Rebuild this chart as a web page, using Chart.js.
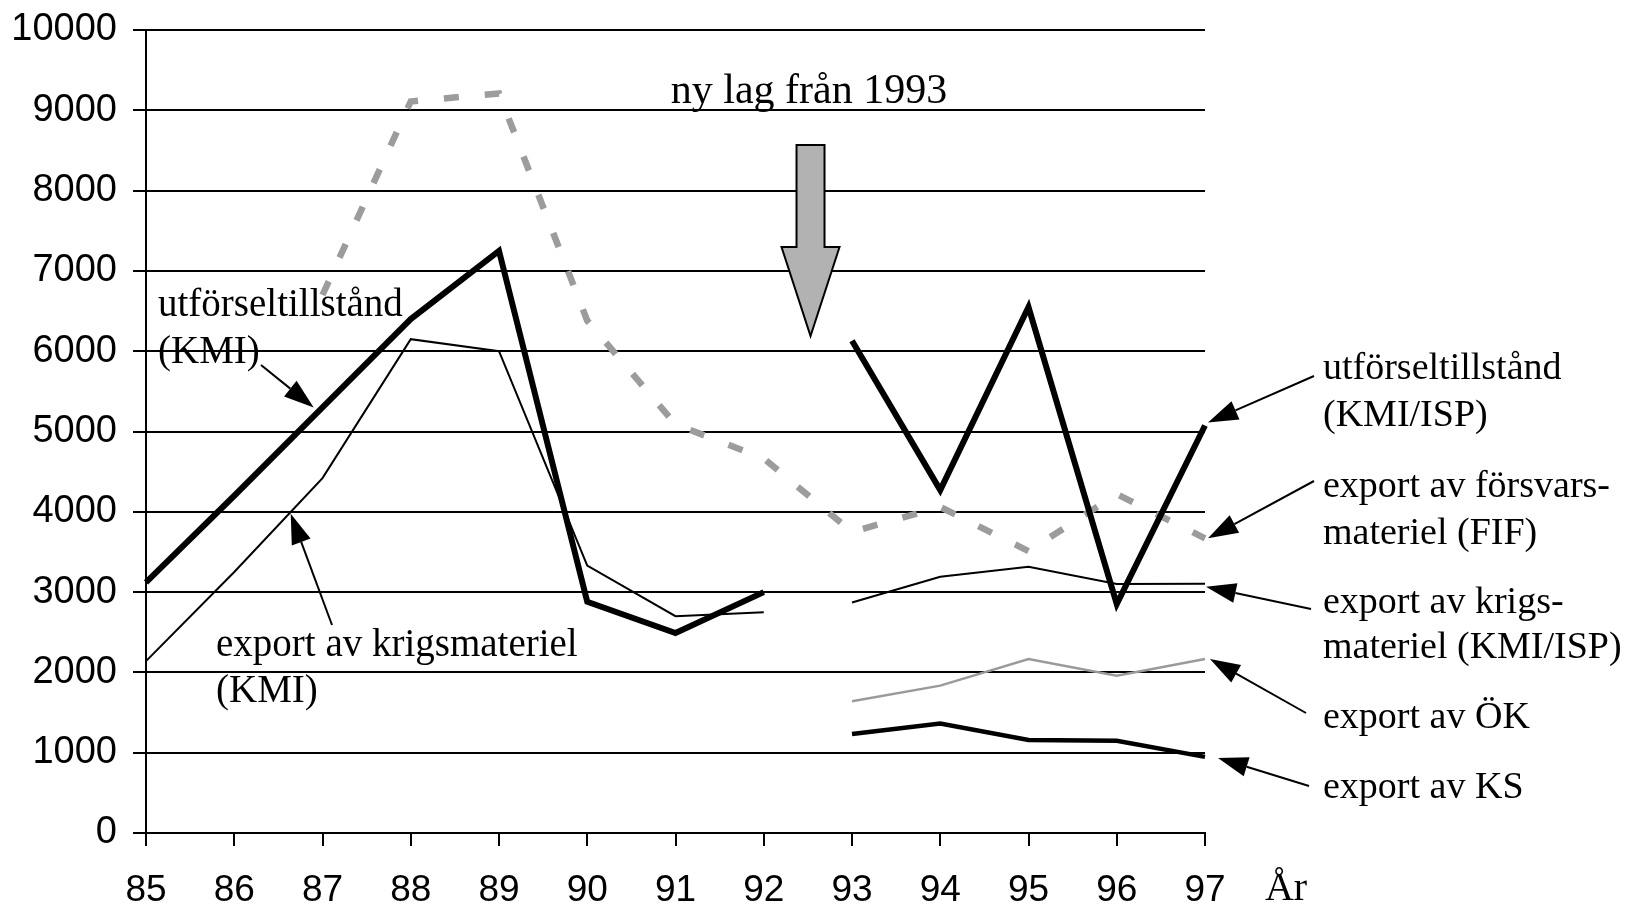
<!DOCTYPE html>
<html>
<head>
<meta charset="utf-8">
<script src="https://cdn.jsdelivr.net/npm/chart.js@4"></script>
<style>
  html, body { margin: 0; padding: 0; background: #fff; }
  #wrap { width: 1629px; height: 905px; }
</style>
</head>
<body>
<div id="wrap"><canvas id="lineChart"></canvas></div>
<script>
const years = ["85", "86", "87", "88", "89", "90", "91", "92", "93", "94", "95", "96", "97"];
const yTicks = [0, 1000, 2000, 3000, 4000, 5000, 6000, 7000, 8000, 9000, 10000];

// before the new law (KMI)
const kmiPermits = [3120, 4200, 5300, 6400, 7250, 2880, 2490, 3000, null, null, null, null, null];
const kmiExports = [2140, 3250, 4420, 6150, 6000, 3330, 2700, 2750, null, null, null, null, null];
// FIF runs over the whole period
const fifExports = [null, null, 6700, 9110, 9210, 6380, 5090, 4665, 3750, 4060, 3510, 4220, 3670];
// after the new law (KMI/ISP)
const ispPermits = [null, null, null, null, null, null, null, null, 6130, 4270, 6550, 2850, 5075];
const ispExports = [null, null, null, null, null, null, null, null, 2870, 3190, 3315, 3100, 3105];
const okExports = [null, null, null, null, null, null, null, null, 1640, 1835, 2167, 1960, 2167];
const ksExports = [null, null, null, null, null, null, null, null, 1232, 1362, 1158, 1148, 948];

const SERIF = "'Liberation Serif', 'Times New Roman', serif";
const SANS = "'Liberation Sans', Arial, sans-serif";

function arrow(ctx, x0, y0, x1, y1) {
  const a = Math.atan2(y1 - y0, x1 - x0);
  const len = 30, half = 10;
  const bx = x1 - len * Math.cos(a), by = y1 - len * Math.sin(a);
  ctx.beginPath();
  ctx.moveTo(x0, y0);
  ctx.lineTo(bx, by);
  ctx.lineWidth = 2;
  ctx.strokeStyle = "#000";
  ctx.stroke();
  ctx.beginPath();
  ctx.moveTo(x1, y1);
  ctx.lineTo(bx + half * Math.sin(a), by - half * Math.cos(a));
  ctx.lineTo(bx - half * Math.sin(a), by + half * Math.cos(a));
  ctx.closePath();
  ctx.fillStyle = "#000";
  ctx.fill();
}

const notes = {
  id: "notes",
  afterDatasetsDraw(chart) {
    const { ctx, scales: { x, y } } = chart;
    const last = years.length - 1;
    ctx.save();

    // text labels
    ctx.fillStyle = "#000";
    ctx.textBaseline = "middle";
    ctx.textAlign = "left";
    ctx.font = "39px " + SERIF;
    ctx.fillText("utförseltillstånd", 158, 306);
    ctx.fillText("(KMI)", 158, 353);
    ctx.fillText("export av krigsmateriel", 216, 646);
    ctx.fillText("(KMI)", 216, 692);

    ctx.font = "38px " + SERIF;
    const rx = 1323;
    ctx.fillText("utförseltillstånd", rx, 369);
    ctx.fillText("(KMI/ISP)", rx, 416);
    ctx.fillText("export av försvars-", rx, 487);
    ctx.fillText("materiel (FIF)", rx, 534);
    ctx.fillText("export av krigs-", rx, 603);
    ctx.fillText("materiel (KMI/ISP)", rx, 648);
    ctx.fillText("export av ÖK", rx, 718);
    ctx.fillText("export av KS", rx, 788);

    ctx.textAlign = "center";
    ctx.font = "42px " + SERIF;
    ctx.fillText("ny lag från 1993", 809, 92);
    ctx.font = "40px " + SERIF;
    ctx.fillText("År", 1286, 889);

    // arrows on the left
    arrow(ctx, 261, 365, x.getPixelForValue(1.9), y.getPixelForValue(5300));
    arrow(ctx, 332, 625, x.getPixelForValue(1.64), y.getPixelForValue(3975));

    // arrows on the right, pointing at the 97 values
    const px = x.getPixelForValue(last);
    arrow(ctx, 1314, 376, px + 3, y.getPixelForValue(ispPermits[last]) - 3);
    arrow(ctx, 1314, 481, px + 3, y.getPixelForValue(fifExports[last]));
    arrow(ctx, 1311, 609, px + 1, y.getPixelForValue(ispExports[last]) + 3);
    arrow(ctx, 1306, 713, px + 5, y.getPixelForValue(okExports[last]));
    arrow(ctx, 1309, 786, px + 13, y.getPixelForValue(ksExports[last]) + 1);

    // block arrow for the new law
    const cx = x.getPixelForValue(7.53);
    ctx.beginPath();
    ctx.moveTo(cx - 14, 145);
    ctx.lineTo(cx + 14, 145);
    ctx.lineTo(cx + 14, 247);
    ctx.lineTo(cx + 29, 247);
    ctx.lineTo(cx, 336);
    ctx.lineTo(cx - 29, 247);
    ctx.lineTo(cx - 14, 247);
    ctx.closePath();
    ctx.fillStyle = "#b2b2b2";
    ctx.fill();
    ctx.lineWidth = 2;
    ctx.strokeStyle = "#000";
    ctx.stroke();

    ctx.restore();
  }
};

function line(data, color, width, extra) {
  return Object.assign({
    data: data,
    borderColor: color,
    borderWidth: width,
    pointRadius: 0,
    tension: 0,
    fill: false,
    spanGaps: false,
    borderJoinStyle: "miter"
  }, extra || {});
}

const ctx = document.getElementById("lineChart").getContext("2d");

new Chart(ctx, {
  type: "line",
  data: {
    labels: years,
    datasets: [
      line(kmiPermits, "#000", 6, { label: "utförseltillstånd (KMI)" }),
      line(ispPermits, "#000", 6, { label: "utförseltillstånd (KMI/ISP)" }),
      line(ksExports, "#000", 4.5, { label: "export av KS" }),
      line(kmiExports, "#000", 2, { label: "export av krigsmateriel (KMI)" }),
      line(ispExports, "#000", 2, { label: "export av krigsmateriel (KMI/ISP)" }),
      line(okExports, "#9a9a9a", 2.5, { label: "export av ÖK" }),
      line(fifExports, "#9c9c9c", 6.5, { label: "export av försvarsmateriel (FIF)", borderDash: [15, 26] })
    ]
  },
  options: {
    responsive: true,
    maintainAspectRatio: false,
    animation: false,
    layout: { padding: { left: 0, top: 30, right: 424, bottom: 0 } },
    plugins: {
      legend: { display: false },
      tooltip: { enabled: false }
    },
    scales: {
      x: {
        offset: false,
        border: { display: true, color: "#000", width: 2 },
        grid: { drawOnChartArea: false, drawTicks: true, tickLength: 13, color: "#000", lineWidth: 2 },
        ticks: { color: "#000", font: { family: SANS, size: 37 }, padding: 23, maxRotation: 0, autoSkip: false },
        afterFit: (scale) => { scale.height = 72; }
      },
      y: {
        min: 0,
        max: 10000,
        border: { display: true, color: "#000", width: 2 },
        grid: { color: "#000", lineWidth: 2, tickLength: 13 },
        afterBuildTicks: (scale) => { scale.ticks = yTicks.map((v) => ({ value: v })); },
        ticks: { color: "#000", font: { family: SANS, size: 38 }, padding: 16, callback: (v) => String(v) },
        afterFit: (scale) => {
          scale.width = 146;
          scale.paddingTop = 20;
          scale.paddingBottom = 20;
        }
      }
    }
  },
  plugins: [notes]
});
</script>
</body>
</html>
